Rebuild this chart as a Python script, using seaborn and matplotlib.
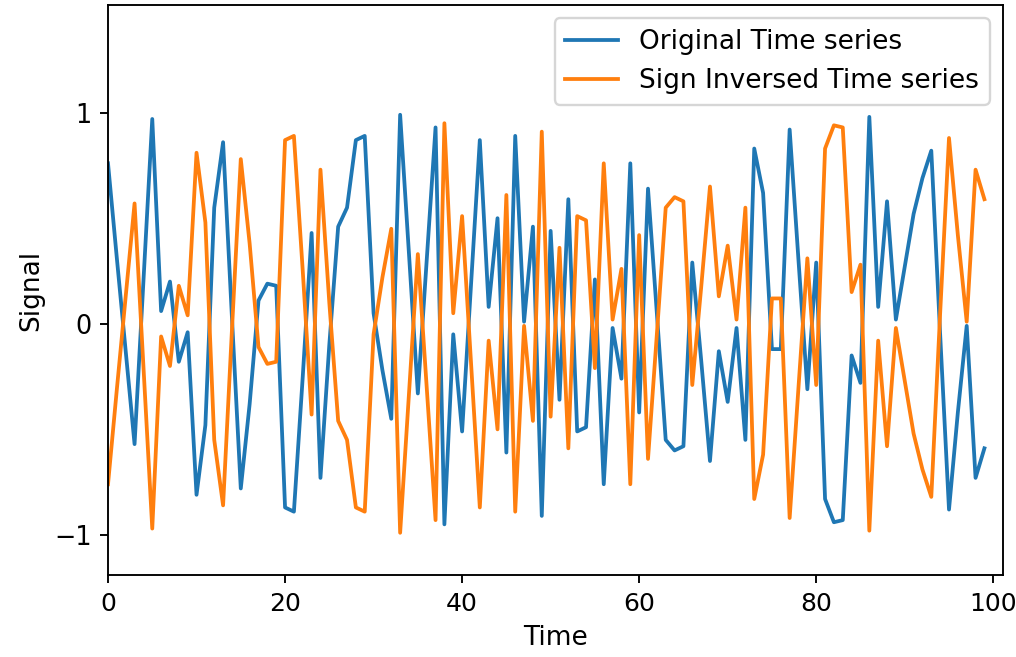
import numpy as np
import pandas as pd
import matplotlib
matplotlib.use("Agg")
import matplotlib.pyplot as plt
import seaborn as sns

time = list(range(100))
original = [
    0.76, 0.31, -0.13, -0.57, 0.20, 0.97, 0.06, 0.20, -0.18, -0.04,
    -0.81, -0.48, 0.55, 0.86, 0.03, -0.78, -0.38, 0.11, 0.19, 0.18,
    -0.87, -0.89, -0.25, 0.43, -0.73, -0.10, 0.46, 0.55, 0.87, 0.89,
    0.05, -0.22, -0.45, 0.99, 0.33, -0.33, 0.30, 0.93, -0.95, -0.05,
    -0.51, 0.18, 0.87, 0.08, 0.50, -0.61, 0.89, 0.01, 0.46, -0.91,
    0.44, -0.36, 0.59, -0.51, -0.49, 0.21, -0.76, -0.02, -0.26, 0.76,
    -0.42, 0.64, 0.05, -0.55, -0.60, -0.58, 0.29, -0.17, -0.65, -0.13,
    -0.37, -0.02, -0.55, 0.83, 0.62, -0.12, -0.12, 0.92, 0.30, -0.31,
    0.29, -0.83, -0.94, -0.93, -0.15, -0.28, 0.98, 0.08, 0.58, 0.02,
    0.27, 0.52, 0.69, 0.82, -0.05, -0.88, -0.42, -0.01, -0.73, -0.59,
]
inversed = [-v for v in original]
labels = ["Original Time series", "Sign Inversed Time series"]

df = pd.DataFrame({
    "Time": time * 2,
    "Signal": original + inversed,
    "series": [labels[0]] * len(time) + [labels[1]] * len(time),
})

plt.rcParams["font.size"] = 11.2
plt.rcParams["xtick.labelsize"] = 10.6
plt.rcParams["ytick.labelsize"] = 10.8
dpi = 170
fig = plt.figure(figsize=(1016 / dpi, 657 / dpi), dpi=dpi)
ax = fig.add_axes([108 / 1016, 1 - 575 / 657, (1003 - 108) / 1016, (575 - 5) / 657])
sns.lineplot(data=df, x="Time", y="Signal", hue="series",
             palette=["#1f77b4", "#ff7f0e"], ax=ax, linewidth=1.6)
ax.set_xlim(0, 101.1)
ax.set_ylim(-1.19, 1.51)
ax.set_yticks([-1, 0, 1])
ax.set_xticks([0, 20, 40, 60, 80, 100])
ax.set_xlabel("Time")
ax.set_ylabel("Signal")
ax.legend(loc="upper right", title=None)
fig.savefig("out.png", dpi=dpi)
